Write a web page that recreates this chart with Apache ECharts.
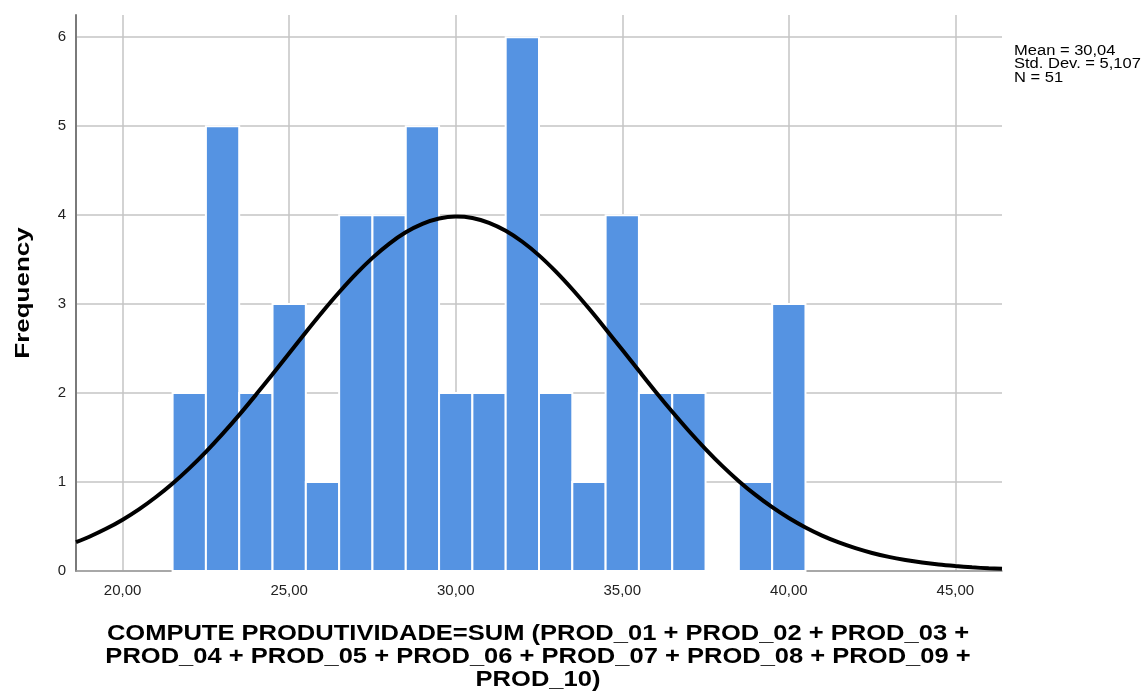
<!DOCTYPE html>
<html>
<head>
<meta charset="utf-8">
<script src="https://cdn.jsdelivr.net/npm/echarts@6/dist/echarts.min.js"></script>
<style>
	html, body { margin: 0; padding: 0; background: #fff; }
	#chart { width: 1148px; height: 691px; }
</style>
</head>
<body>
<div id="chart"></div>
<script>
	// histogram bins (width 1) and their counts
	var binCenters = [22, 23, 24, 25, 26, 27, 28, 29, 30, 31, 32, 33, 34, 35, 36, 37, 38, 39, 40];
	var frequencies = [2, 5, 2, 3, 1, 4, 4, 5, 2, 2, 6, 2, 1, 4, 2, 2, 0, 1, 3];
	// normal curve, every half unit
	var curveX = [18.6, 19, 19.5, 20, 20.5, 21, 21.5, 22, 22.5, 23, 23.5, 24, 24.5, 25, 25.5, 26, 26.5, 27, 27.5, 28, 28.5, 29, 29.5, 30, 30.5, 31, 31.5, 32, 32.5, 33, 33.5, 34, 34.5, 35, 35.5, 36, 36.5, 37, 37.5, 38, 38.5, 39, 39.5, 40, 40.5, 41, 41.5, 42, 42.5, 43, 43.5, 44, 44.5, 45, 45.5, 46, 46.4];
	var curveY = [0.324, 0.385, 0.474, 0.577, 0.696, 0.832, 0.984, 1.154, 1.340, 1.541, 1.755, 1.980, 2.212, 2.448, 2.684, 2.914, 3.133, 3.337, 3.520, 3.678, 3.807, 3.902, 3.962, 3.984, 3.968, 3.914, 3.824, 3.701, 3.548, 3.368, 3.167, 2.950, 2.721, 2.486, 2.250, 2.016, 1.790, 1.574, 1.371, 1.182, 1.010, 0.855, 0.717, 0.595, 0.489, 0.398, 0.321, 0.257, 0.203, 0.159, 0.124, 0.095, 0.072, 0.055, 0.041, 0.030, 0.024];
	var xTicks = [20, 25, 30, 35, 40, 45];
	var yTicks = [0, 1, 2, 3, 4, 5, 6];
	var statsLines = ['Mean = 30,04', 'Std. Dev. = 5,107', 'N = 51'];
	var xTitle = 'COMPUTE PRODUTIVIDADE=SUM (PROD_01 + PROD_02 + PROD_03 +\nPROD_04 + PROD_05 + PROD_06 + PROD_07 + PROD_08 + PROD_09 +\nPROD_10)';
	var yTitle = 'Frequency';

	var barData = binCenters.map(function(c, i) { return [c, frequencies[i]]; });
	var curveData = curveX.map(function(x, i) { return [x, curveY[i]]; });

	var font = 'Liberation Sans, Arial, sans-serif';
	var myChart = echarts.init(document.getElementById('chart'));
	var option = {
		backgroundColor: '#fff',
		animation: false,
		textStyle: { fontFamily: font },
		grid: {
			left: 76,
			right: 146,
			top: 15,
			bottom: 120
		},
		graphic: [{
			type: 'text',
			x: 1014,
			y: 44,
			scaleX: 1.18,
			style: {
				text: statsLines.join('\n'),
				fontSize: 14,
				lineHeight: 13.5,
				fill: '#000',
				fontFamily: font
			}
		}, {
			// x axis title
			type: 'text',
			x: 538,
			y: 622,
			scaleX: 1.16,
			style: {
				text: xTitle,
				align: 'center',
				verticalAlign: 'top',
				fontSize: 22,
				fontWeight: 'bold',
				lineHeight: 23,
				fill: '#000',
				fontFamily: font
			}
		}, {
			// y axis title
			type: 'text',
			x: 23,
			y: 293,
			rotation: Math.PI / 2,
			scaleX: 1.3,
			style: {
				text: yTitle,
				align: 'center',
				verticalAlign: 'middle',
				fontSize: 20,
				fontWeight: 'bold',
				fill: '#000',
				fontFamily: font
			}
		}],
		xAxis: {
			type: 'value',
			min: 18.6,
			max: 46.4,
			axisLine: {
				onZero: false,
				lineStyle: { color: '#9a9a9a', width: 1.5 }
			},
			axisTick: { show: false, customValues: xTicks },
			axisLabel: {
				customValues: xTicks,
				color: '#222',
				fontSize: 15,
				margin: 12,
				formatter: function(v) { return v.toFixed(2).replace('.', ','); }
			},
			splitLine: {
				show: true,
				lineStyle: { color: '#c4c4c4', width: 1.5 }
			}
		},
		yAxis: {
			type: 'value',
			min: 0,
			max: 6.25,
			axisLine: {
				show: true,
				lineStyle: { color: '#7a7a7a', width: 2 }
			},
			axisTick: { show: false, customValues: yTicks },
			axisLabel: {
				customValues: yTicks,
				color: '#222',
				fontSize: 15,
				margin: 10
			},
			splitLine: {
				show: true,
				lineStyle: { color: '#c4c4c4', width: 1.5 }
			}
		},
		series: [{
			type: 'custom',
			name: 'Frequency',
			data: barData,
			renderItem: function(params, api) {
				var x = api.value(0);
				var y = api.value(1);
				var p0 = api.coord([x - 0.5, y]);
				var p1 = api.coord([x + 0.5, 0]);
				return {
					type: 'rect',
					shape: { x: p0[0], y: p0[1], width: p1[0] - p0[0], height: p1[1] - p0[1] },
					style: { fill: '#5593e2', stroke: '#fff', lineWidth: 2 }
				};
			},
			z: 2
		}, {
			type: 'line',
			name: 'Normal',
			data: curveData,
			smooth: 0.3,
			showSymbol: false,
			lineStyle: { color: '#000', width: 4 },
			z: 3
		}]
	};
	myChart.setOption(option);
</script>
</body>
</html>
